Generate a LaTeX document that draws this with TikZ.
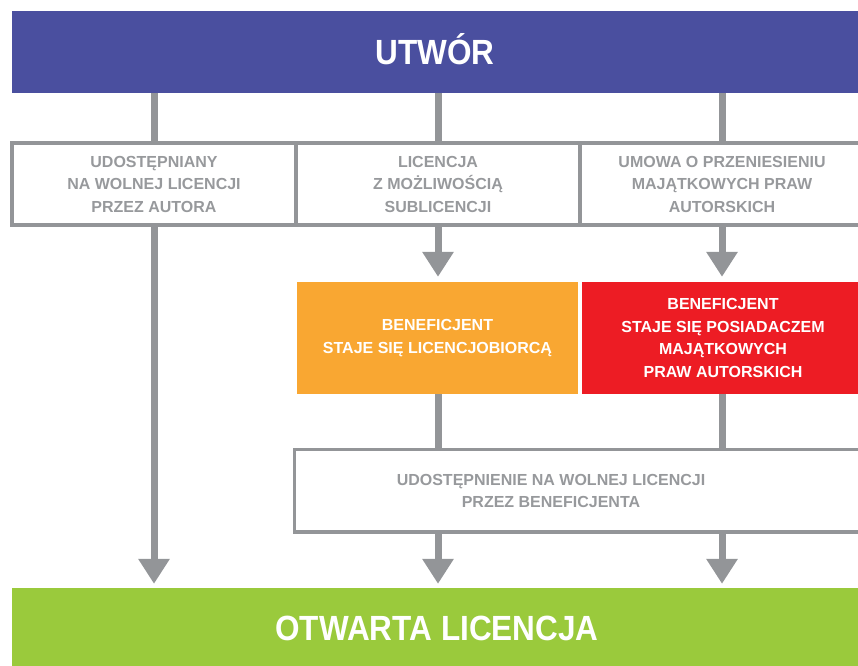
\documentclass[tikz,border=0pt]{standalone}
\usepackage{fontspec}
\setmainfont{Liberation Sans}
\newfontfamily\titlefont[FakeStretch=0.9]{Liberation Sans}
\usepackage{tikz}
\usetikzlibrary{arrows.meta}
\definecolor{utworblue}{HTML}{4A4F9F}
\definecolor{otwgreen}{HTML}{9ACA3C}
\definecolor{licorange}{HTML}{F9A732}
\definecolor{posred}{HTML}{ED1C24}
\definecolor{linegray}{HTML}{939598}
\definecolor{textgray}{HTML}{97999C}
\tikzstyle{title} = [rectangle, fill=utworblue, text=white, inner sep=0pt,
  font=\titlefont\bfseries\fontsize{35}{40}\selectfont, text height=25pt, text depth=0pt,
  minimum width=846pt, minimum height=82pt]
\tikzstyle{case} = [rectangle, draw=linegray, line width=3.5pt, text=textgray, align=center,
  font=\bfseries\fontsize{16}{22.5}\selectfont, minimum width=284pt, minimum height=82pt]
\tikzstyle{result} = [rectangle, text=white, align=center,
  font=\bfseries\fontsize{16}{22.5}\selectfont, minimum width=281pt, minimum height=112pt]
\tikzstyle{stem} = [draw=linegray, line width=7pt]
\tikzstyle{line} = [stem, -{Triangle[length=25pt,width=30pt]}]

\begin{document}
\begin{tikzpicture}[x=1pt,y=-1pt]
    \useasboundingbox (0,0) rectangle (858,665);
    \node[title] (utwor) at (435,52) {UTWÓR};
    \node[case] (autor) at (154,184) {UDOSTĘPNIANY\\NA WOLNEJ LICENCJI\\PRZEZ AUTORA};
    \node[case, right of=autor, node distance=284pt] (sublic) {LICENCJA\\Z MOŻLIWOŚCIĄ\\SUBLICENCJI};
    \node[case, right of=sublic, node distance=284pt] (umowa) {UMOWA O PRZENIESIENIU\\MAJĄTKOWYCH PRAW\\AUTORSKICH};

    \node[result, fill=licorange] (licencjobiorca) at (437.5,338) {BENEFICJENT\\STAJE SIĘ LICENCJOBIORCĄ};
    \node[result, fill=posred, minimum width=282pt] (posiadacz) at (723,338) {BENEFICJENT\\STAJE SIĘ POSIADACZEM\\MAJĄTKOWYCH\\PRAW AUTORSKICH};

    \node[case, minimum width=569.5pt, minimum height=82.5pt] (udost) at (579.25,490.75) {};
    \node[text=textgray, align=center, font=\bfseries\fontsize{16}{22.5}\selectfont] (udosttext) at (551,491) {UDOSTĘPNIENIE NA WOLNEJ LICENCJI\\PRZEZ BENEFICJENTA};

    \node[title, fill=otwgreen, minimum width=850pt, minimum height=80pt] (otwarta) at (437,628) {OTWARTA LICENCJA};

    \foreach \n in {autor,sublic,umowa}
      \path[stem] (utwor.south -| \n) -- (\n.north);
    \path[line, shorten >=5pt] (sublic.south) -- (sublic.south |- licencjobiorca.north);
    \path[line, shorten >=5pt] (umowa.south) -- (umowa.south |- posiadacz.north);
    \path[line, shorten >=4pt] (autor.south) -- (autor.south |- otwarta.north);
    \path[stem] (licencjobiorca.south -| sublic) -- (sublic |- udost.north);
    \path[stem] (posiadacz.south -| umowa) -- (umowa |- udost.north);
    \path[line, shorten >=4pt] (udost.south -| sublic) -- (sublic |- otwarta.north);
    \path[line, shorten >=4pt] (udost.south -| umowa) -- (umowa |- otwarta.north);
  \end{tikzpicture}
\end{document}
